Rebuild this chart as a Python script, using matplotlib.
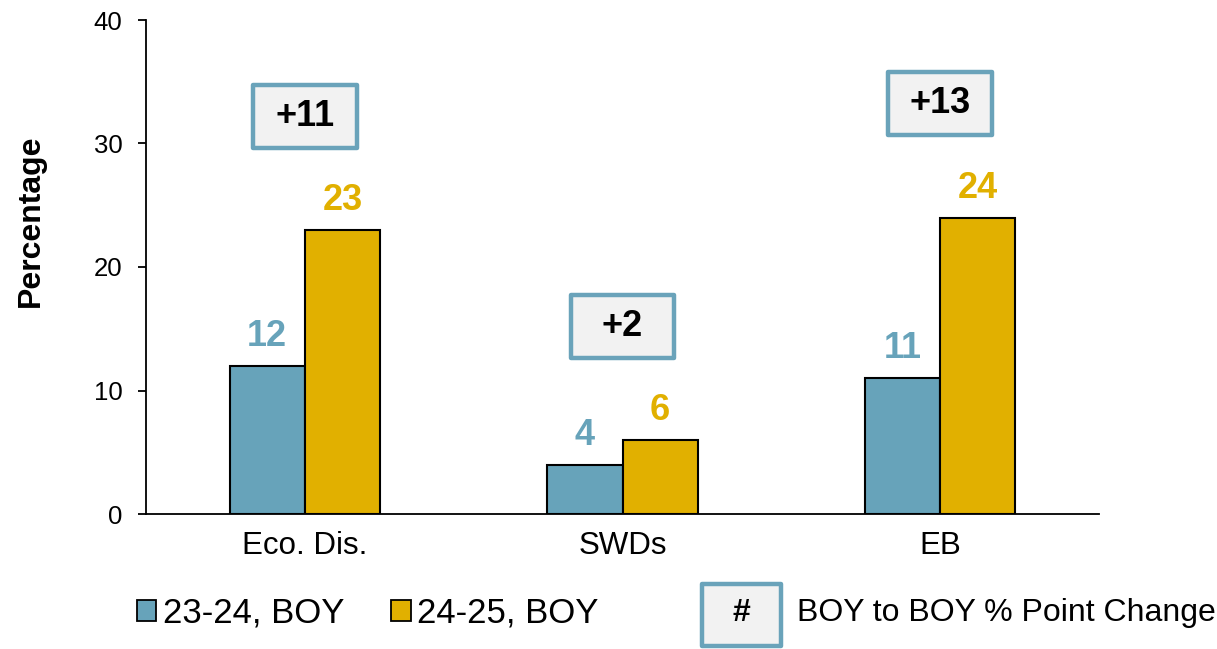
import matplotlib
matplotlib.use("Agg")
import matplotlib.pyplot as plt
from matplotlib.patches import Rectangle
import numpy as np

plt.rcParams['font.family'] = ['Liberation Sans', 'DejaVu Sans']

categories = ["Eco. Dis.", "SWDs", "EB"]
series_names = ["23-24, BOY", "24-25, BOY"]
boy_2324 = [12, 4, 11]
boy_2425 = [23, 6, 24]
change_labels = ["+11", "+2", "+13"]
yticks = [0, 10, 20, 30, 40]

BLUE = "#67A3BA"
GOLD = "#E1B000"
BOX_EDGE = "#6AA3BA"
BOX_FILL = "#F2F2F2"

fig = plt.figure(figsize=(12.17, 6.49), dpi=100)
ax = fig.add_axes([146 / 1217, 1 - 514 / 649, (1099 - 146) / 1217, (514 - 20) / 649])

x = np.arange(len(categories))
w = 0.237
b1 = ax.bar(x - w / 2, boy_2324, w, color=BLUE, edgecolor="black", linewidth=1.5)
b2 = ax.bar(x + w / 2, boy_2425, w, color=GOLD, edgecolor="black", linewidth=1.5)

for bars, vals, col in [(b1, boy_2324, BLUE), (b2, boy_2425, GOLD)]:
    for bar, v in zip(bars, vals):
        ax.annotate(str(v), (bar.get_x() + bar.get_width() / 2, v),
                    xytext=(0, 21), textcoords="offset points",
                    ha="center", va="center", fontsize=26, fontweight="bold",
                    color=col)

# change boxes above each group
box_w, box_h = 0.327, 5.1
for xi, a, b, lab in zip(x, boy_2324, boy_2425, change_labels):
    yc = max(a, b) + 9.2
    ax.add_patch(Rectangle((xi - box_w / 2, yc - box_h / 2), box_w, box_h,
                           facecolor=BOX_FILL, edgecolor=BOX_EDGE,
                           linewidth=3.2, joinstyle="round", zorder=3))
    ax.text(xi, yc, lab, ha="center", va="center", fontsize=26,
            fontweight="bold", zorder=4)

ax.set_xlim(-0.5, 2.5)
ax.set_ylim(0, 40)
ax.set_yticks(yticks)
ax.set_xticks(x)
ax.set_xticklabels(categories, fontsize=22.5)
ax.tick_params(axis="y", labelsize=18.5, length=6, width=1.3, direction="out", pad=11)
ax.tick_params(axis="x", length=0, pad=12)
for s in ["top", "right"]:
    ax.spines[s].set_visible(False)
for s in ["left", "bottom"]:
    ax.spines[s].set_linewidth(1.3)
ax.set_ylabel("Percentage", fontsize=23, fontweight="bold")
ax.yaxis.set_label_coords(-(146 - 46) / 953, 0.593)

# legend
handles = [Rectangle((0, 0), 1, 1, facecolor=BLUE, edgecolor="black", linewidth=1.3),
           Rectangle((0, 0), 1, 1, facecolor=GOLD, edgecolor="black", linewidth=1.3)]
fig.legend(handles, series_names, loc="center left",
           bbox_to_anchor=(137 / 1217, 1 - 613 / 649), ncol=2, frameon=False,
           fontsize=25, handlelength=0.55, handleheight=0.55, handletextpad=0.2,
           columnspacing=1.35, borderpad=0, borderaxespad=0)

fig.patches.append(Rectangle((702 / 1217, 1 - 646 / 649), 79 / 1217, 62 / 649,
                             transform=fig.transFigure, facecolor=BOX_FILL,
                             edgecolor=BOX_EDGE, linewidth=3.2, joinstyle="round"))
fig.text(741 / 1217, 1 - 613 / 649, "#", ha="center", va="center",
         fontsize=23, fontweight="bold")
fig.text(797 / 1217, 1 - 613 / 649, "BOY to BOY % Point Change",
         ha="left", va="center", fontsize=23)

fig.savefig("out.png", dpi=100)
